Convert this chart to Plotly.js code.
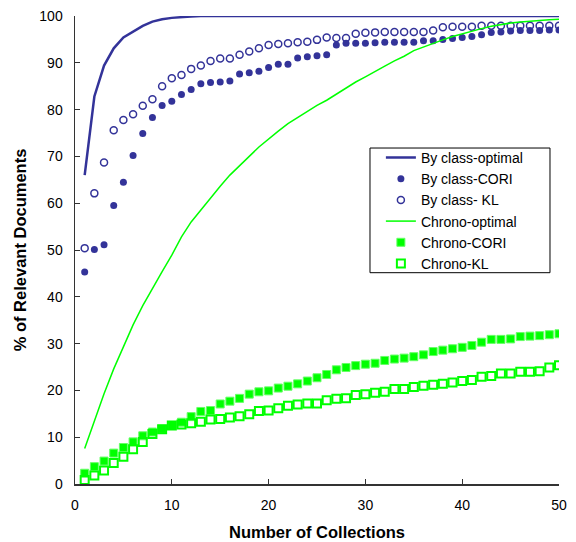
<!DOCTYPE html>
<html><head><meta charset="utf-8">
<script src="https://cdn.plot.ly/plotly-3.0.1.min.js"></script>
<style>html,body{margin:0;padding:0;background:#fff}#chart{width:576px;height:542px}</style>
</head><body><div id="chart"></div>
<script>
const collections = Array.from({length:50},(_,i)=>i+1);
const byClassOptimal = [66.0,82.8,89.4,93.1,95.4,96.7,97.9,98.8,99.3,99.6,99.8,99.9,100,100,100,100,100,100,100,100,100,100,100,100,100,100,100,100,100,100,100,100,100,100,100,100,100,100,100,100,100,100,100,100,100,100,100,100,100,100];
const byClassCORI = [45.3,50.1,51.1,59.5,64.5,70.2,74.9,78.3,80.9,81.8,83.2,84.3,85.5,85.8,85.9,86.1,87.6,87.9,88.2,89.0,89.7,89.7,91.0,91.3,91.5,91.7,93.8,94.2,94.2,94.2,94.3,94.4,94.4,94.4,94.4,94.7,94.7,95.0,95.2,95.4,95.6,96.0,96.5,96.6,96.8,96.9,96.9,96.9,97.0,97.0];
const byClassKL = [50.4,62.1,68.7,75.6,77.8,79.0,80.8,82.2,85.0,86.7,87.4,88.7,89.4,90.4,90.9,90.9,91.7,92.4,93.1,93.8,94.0,94.2,94.4,94.5,94.9,95.4,95.3,95.3,96.2,96.4,96.5,96.6,96.6,96.6,96.6,96.6,96.9,97.6,97.7,97.7,97.7,97.9,97.9,97.9,97.9,97.9,97.9,97.9,97.9,97.9];
const chronoOptimal = [7.6,13.6,19.3,24.6,29.5,34.0,38.1,41.9,45.4,48.9,52.8,56.0,58.6,61.0,63.6,66.0,68.1,70.0,72.0,73.8,75.4,77.0,78.3,79.6,80.9,82.0,83.3,84.6,85.9,87.0,88.2,89.3,90.4,91.4,92.6,93.4,94.2,94.9,95.6,96.2,96.8,97.3,97.8,98.2,98.5,98.7,98.9,99.1,99.2,99.3];
const chronoCORI = [2.3,3.7,4.9,6.6,7.8,9.0,10.3,11.1,11.7,12.5,13.2,14.4,15.5,15.7,17.1,17.7,18.3,19.2,19.7,19.9,20.5,20.9,21.4,22.0,22.7,23.4,24.4,24.9,25.3,25.6,25.8,26.4,26.7,26.9,27.2,27.6,28.3,28.6,28.9,29.2,29.6,30.3,30.9,30.9,31.0,31.5,31.6,31.7,31.9,32.1];
const chronoKL = [0.85,1.8,2.9,4.5,5.8,7.4,9.0,10.7,11.7,12.5,12.7,13.0,13.3,13.8,13.9,14.2,14.5,14.9,15.6,15.7,16.2,16.7,17.0,17.2,17.2,17.9,18.2,18.3,19.0,19.2,19.5,19.7,20.3,20.3,20.7,21.0,21.2,21.4,21.7,22.0,22.2,22.9,23.1,23.6,23.6,24.0,24.0,24.1,24.9,25.4];
const xTicks = [0,10,20,30,40,50];
const yTicks = [0,10,20,30,40,50,60,70,80,90,100];

const blue = '#333399', green = '#00FF00';
const traces = [
  {x:collections,y:byClassOptimal,name:'By class-optimal',mode:'lines',line:{color:blue,width:2.5}},
  {x:collections,y:byClassCORI,name:'By class-CORI',mode:'markers',marker:{symbol:'circle',size:7,color:blue}},
  {x:collections,y:byClassKL,name:'By class- KL',mode:'markers',marker:{symbol:'circle-open',size:7,color:blue,line:{width:1.5}}},
  {x:collections,y:chronoOptimal,name:'Chrono-optimal',mode:'lines',line:{color:green,width:1.5}},
  {x:collections,y:chronoCORI,name:'Chrono-CORI',mode:'markers',marker:{symbol:'square',size:8,color:green,line:{color:'#66ff66',width:1}}},
  {x:collections,y:chronoKL,name:'Chrono-KL',mode:'markers',marker:{symbol:'square-open',size:8,color:green,line:{width:2}}}
];
const layout = {
  width:576,height:542,
  margin:{l:75,r:17,t:16,b:58},
  paper_bgcolor:'#fff',plot_bgcolor:'#fff',
  font:{family:'Liberation Sans, Arial, sans-serif',size:14,color:'#000'},
  showlegend:true,
  legend:{x:0.632,y:0.731,xanchor:'left',yanchor:'top',borderwidth:0,bgcolor:'rgba(0,0,0,0)',font:{size:14},tracegroupgap:0},
  shapes:[{type:'rect',xref:'paper',yref:'paper',x0:0.6095,x1:0.9814,y0:0.4515,y1:0.7179,fillcolor:'#fff',line:{color:'#000',width:1},layer:'above'}],
  xaxis:{range:[0,50],tickvals:xTicks,ticktext:xTicks.map(String),showgrid:false,zeroline:false,showline:true,linecolor:'#333',linewidth:1.5,ticks:'inside',ticklen:5,tickcolor:'#333',mirror:false,ticklabelstandoff:8,
    title:{text:'<b>Number of Collections</b>',font:{size:16.5},standoff:14},tickfont:{size:14}},
  yaxis:{range:[0,100],tickvals:yTicks,ticktext:yTicks.map(String),showgrid:false,zeroline:false,showline:true,linecolor:'#333',linewidth:1.5,ticks:'inside',ticklen:5,tickcolor:'#333',mirror:false,ticklabelstandoff:8,
    title:{text:'<b>% of Relevant Documents</b>',font:{size:16.5},standoff:8},tickfont:{size:14}}
};
Plotly.newPlot('chart',traces,layout,{displayModeBar:false,staticPlot:true});
</script></body></html>
